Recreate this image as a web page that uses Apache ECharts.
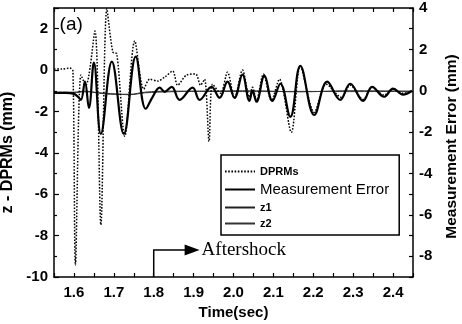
<!DOCTYPE html>
<html>
<head>
<meta charset="utf-8">
<script src="https://cdn.jsdelivr.net/npm/echarts@6/dist/echarts.min.js"></script>
<style>
html, body { margin: 0; padding: 0; background: #fff; }
#chart { width: 462px; height: 324px; }
</style>
</head>
<body>
<div id="chart"></div>
<script>
// values (time in sec)
const dprmTime = [1.55, 1.57, 1.59, 1.5975, 1.60375, 1.6175, 1.63, 1.6525, 1.6675, 1.6825, 1.6975, 1.7075, 1.7275, 1.7525, 1.775, 1.79, 1.81, 1.8275, 1.8475, 1.86, 1.8825, 1.905, 1.9175, 1.9275, 1.93875, 1.9475, 1.9675, 1.985, 2.0025, 2.0225, 2.04, 2.0475, 2.0575, 2.075, 2.095, 2.115, 2.145, 2.1675, 2.2025, 2.2325, 2.27, 2.2925, 2.325, 2.3475, 2.3775, 2.40, 2.425, 2.4475];
const dprmValues = [0.05, 0.05, 0.1, -0.05, -9.42, -0.24, -0.73, 1.89, -7.48, 2.96, 0.87, 0.78, -3.2, 1.41, -0.92, -0.44, -0.53, -0.34, -0.05, -0.73, -0.24, -0.19, -0.73, -0.44, -3.45, -0.68, -1.12, -0.10, -1.36, 0, -1.31, -0.83, -1.46, -0.19, -1.46, -0.44, -3.01, 0.19, -2.04, -0.68, -1.31, -0.73, -1.41, -0.83, -1.21, -0.92, -1.12, -1.02];

// measurement error, right axis
const errTime = [1.55, 1.58, 1.60, 1.61, 1.6175, 1.6275, 1.6375, 1.65, 1.6675, 1.695, 1.725, 1.755, 1.78, 1.7975, 1.815, 1.8275, 1.845, 1.865, 1.8975, 1.915, 1.945, 1.965, 1.985, 2.0025, 2.0225, 2.04, 2.0475, 2.0575, 2.0775, 2.0975, 2.1175, 2.1425, 2.1675, 2.2025, 2.235, 2.2675, 2.2925, 2.325, 2.3475, 2.3775, 2.40, 2.425, 2.4475];
const errValues = [-0.10, -0.10, -0.15, -0.29, -0.44, 0.44, -0.83, 1.36, -2.09, 1.41, -2.09, 1.65, -0.87, -0.29, 0.15, -0.05, 0.19, -0.44, 0.15, -0.44, 0.19, -0.34, 0.44, -0.34, 0.78, -0.49, 0, -0.53, 0.73, -0.49, 0.34, -1.26, 1.21, -1.17, 0.44, -0.44, 0.34, -0.49, 0.19, -0.29, 0.10, -0.19, 0];

const zTime = [1.55, 1.60, 1.6275, 1.665, 1.7025, 1.74, 1.7775, 1.84, 1.915, 2.04, 2.165, 2.29, 2.4475];
const z1Values = [-1.07, -1.07, -1.02, -1.12, -1.17, -1.17, -1.07, -1.02, -1.02, -1.0, -1.05, -1.0, -1.02];
const z2Values = [-1.1, -1.09, -1.05, -1.1, -1.15, -1.19, -1.1, -1.05, -1.03, -1.04, -1.03, -1.04, -1.03];

const aftershockTime = 1.8;
const arrowLevel = -8.7;
const arrowTipTime = 1.915;

const zip = (t, v) => t.map((x, i) => [x, v[i]]);

const font = 'Liberation Sans, Arial, sans-serif';
const axisColor = '#000';
const labelStyle = { fontFamily: font, fontWeight: 'bold', fontSize: 15, color: '#000' };
const titleStyle = { fontFamily: font, fontWeight: 'bold', fontSize: 16, color: '#000' };

const chart = echarts.init(document.getElementById('chart'));

const xBase = {
	type: 'value',
	min: 1.55,
	max: 2.45,
	interval: 0.05,
	splitLine: { show: false },
	axisLine: { onZero: false, lineStyle: { color: axisColor, width: 1.5 } },
	axisTick: { inside: true, length: 4, lineStyle: { color: axisColor, width: 1.2 } },
}

chart.setOption({
	backgroundColor: '#fff',
	animation: false,
	grid: { left: 54, right: 49, top: 8, bottom: 47, outerBoundsMode: 'none', containLabel: false },
	xAxis: [
		{
			...xBase,
			position: 'bottom',
			name: 'Time(sec)',
			nameLocation: 'middle',
			nameGap: 28,
			nameTextStyle: { ...titleStyle, fontSize: 15 },
			axisLabel: {
				...labelStyle,
				margin: 8,
				formatter: v => (Math.round(v * 100) % 10 === 0 ? v.toFixed(1) : '')
			}
		},
		{
			...xBase,
			position: 'top',
			axisLabel: { show: false }
		}
	],
	yAxis: [
		{
			type: 'value',
			min: -10,
			max: 3,
			interval: 2,
			position: 'left',
			name: 'z - DPRMs (mm)',
			nameLocation: 'middle',
			nameRotate: 90,
			nameGap: 29,
			nameTextStyle: { ...titleStyle, padding: [0, 20, 0, 0] },
			splitLine: { show: false },
			axisLine: { show: true, onZero: false, lineStyle: { color: axisColor, width: 1.5 } },
			axisTick: { inside: true, length: 5, lineStyle: { color: axisColor, width: 1.2 } },
			minorTick: { show: true, splitNumber: 2, length: 3, lineStyle: { color: axisColor, width: 1.2 } },
			axisLabel: { ...labelStyle, margin: 6, showMaxLabel: false }
		},
		{
			type: 'value',
			min: -9,
			max: 4,
			interval: 1,
			position: 'right',
			name: 'Measurement Error (mm)',
			nameLocation: 'middle',
			nameRotate: 90,
			nameGap: 30,
			nameTextStyle: { ...titleStyle, fontSize: 15.5, padding: [0, 8, 0, 0] },
			splitLine: { show: false },
			axisLine: { show: true, onZero: false, lineStyle: { color: axisColor, width: 1.5 } },
			axisTick: { inside: true, length: 4, lineStyle: { color: axisColor, width: 1.2 } },
			axisLabel: {
				...labelStyle,
				margin: 6,
				formatter: v => (Math.abs(v) % 2 === 0 ? String(v) : '')
			}
		}
	],
	legend: {
		orient: 'vertical',
		left: 221,
		top: 155,
		padding: [11, 10, 6, 3],
		itemGap: 5,
		itemWidth: 30,
		itemHeight: 12,
		itemStyle: { opacity: 0 }, // line only, no marker
		borderColor: '#000',
		borderWidth: 1.5,
		backgroundColor: '#fff',
		data: [
			{ name: 'DPRMs', textStyle: { fontFamily: font, fontWeight: 'bold', fontSize: 11, color: '#000' } },
			{ name: 'Measurement Error', textStyle: { fontFamily: font, fontSize: 15, color: '#000' } },
			{ name: 'z1', textStyle: { fontFamily: font, fontWeight: 'bold', fontSize: 11, color: '#000' } },
			{ name: 'z2', textStyle: { fontFamily: font, fontWeight: 'bold', fontSize: 11, color: '#000' } }
		]
	},
	series: [
		{
			name: 'DPRMs',
			type: 'line',
			data: zip(dprmTime, dprmValues),
			symbol: 'none',
			smooth: 0.3,
			lineStyle: { color: '#000', width: 1.5, type: [1.6, 1.6] },
			itemStyle: { color: '#000' },
			z: 3
		},
		{
			name: 'Measurement Error',
			type: 'line',
			yAxisIndex: 1,
			data: zip(errTime, errValues),
			symbol: 'none',
			smooth: 0.4,
			lineStyle: { color: '#000', width: 2.2 },
			itemStyle: { color: '#000' },
			z: 4
		},
		{
			name: 'z1',
			type: 'line',
			data: zip(zTime, z1Values),
			symbol: 'none',
			smooth: 0.4,
			lineStyle: { color: '#222', width: 1 },
			itemStyle: { color: '#222' },
			z: 2
		},
		{
			name: 'z2',
			type: 'line',
			data: zip(zTime, z2Values),
			symbol: 'none',
			smooth: 0.4,
			lineStyle: { color: '#333', width: 1 },
			itemStyle: { color: '#333' },
			z: 2
		}
	]
});

// "(a)" tag and the aftershock marker, placed through the axes
const [ax, ay0] = chart.convertToPixel({ xAxisIndex: 0, yAxisIndex: 0 }, [aftershockTime, -10]);
const [tipX, ay1] = chart.convertToPixel({ xAxisIndex: 0, yAxisIndex: 0 }, [arrowTipTime, arrowLevel]);
const [tagX, tagY] = chart.convertToPixel({ xAxisIndex: 0, yAxisIndex: 0 }, [1.564, 2.2]);

chart.setOption({
	graphic: [
		{
			type: 'polyline',
			shape: { points: [[ax, ay0], [ax, ay1], [tipX - 13, ay1]] },
			style: { stroke: '#000', lineWidth: 1.5, fill: null },
			z: 10
		},
		{
			type: 'polygon',
			shape: { points: [[tipX - 15, ay1 - 5.5], [tipX, ay1], [tipX - 15, ay1 + 5.5]] },
			style: { fill: '#000' },
			z: 10
		},
		{
			type: 'text',
			x: tipX + 2,
			y: ay1,
			style: { text: 'Aftershock', font: '19px "Liberation Serif", "Times New Roman", serif', fill: '#000', verticalAlign: 'middle' },
			z: 10
		},
		{
			type: 'text',
			x: tagX,
			y: tagY,
			style: { text: '(a)', font: '19px "Liberation Sans", Arial, sans-serif', fill: '#000', verticalAlign: 'middle' },
			z: 10
		}
	]
});
</script>
</body>
</html>
